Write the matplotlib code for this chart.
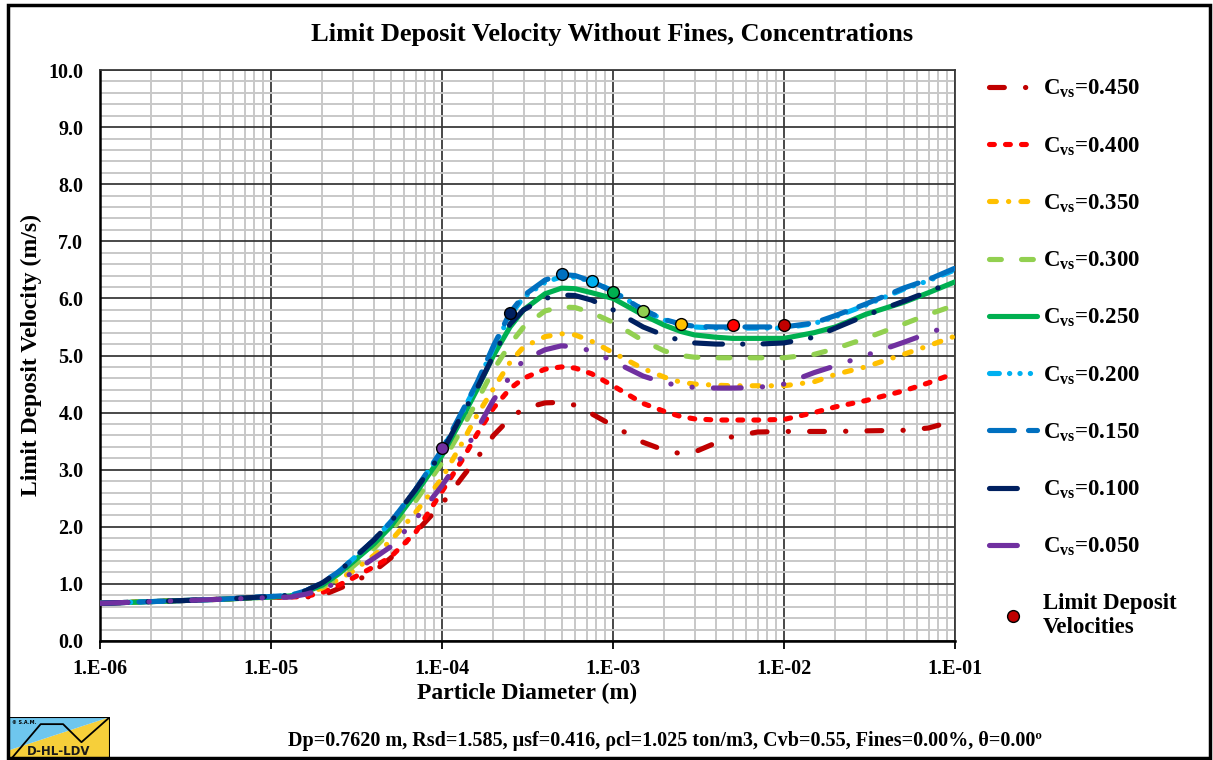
import numpy as np
import matplotlib
matplotlib.use('Agg')
import matplotlib.pyplot as plt
from matplotlib.lines import Line2D
from matplotlib.ticker import LogLocator, MultipleLocator, FuncFormatter, NullFormatter
from matplotlib.patches import Polygon, Rectangle

plt.rcParams['font.family'] = ['Liberation Serif', 'DejaVu Serif']
plt.rcParams['font.weight'] = 'bold'

# ---------------- data ----------------
diameters = [1e-6, 2e-6, 5e-6, 1e-5, 1.3e-5, 1.6e-5, 2e-5, 2.5e-5, 3e-5, 4e-5, 5e-5, 7e-5,
             1e-4, 1.3e-4, 1.6e-4, 2e-4, 2.5e-4, 3e-4, 4e-4, 5e-4, 6e-4, 7.5e-4, 1e-3,
             1.5e-3, 2e-3, 2.5e-3, 3e-3, 4e-3, 5e-3, 7e-3, 1e-2, 1.5e-2, 2e-2, 3e-2,
             5e-2, 7e-2, 1e-1]

cvs_labels = ['0.450', '0.400', '0.350', '0.300', '0.250', '0.200', '0.150', '0.100', '0.050']

v_450 = [0.66, 0.69, 0.73, 0.77, 0.77, 0.77, 0.80, 0.92, 1.02, 1.22, 1.45, 1.90,
         2.40, 2.85, 3.20, 3.60, 3.90, 4.07, 4.17, 4.18, 4.13, 3.98, 3.77, 3.48, 3.34,
         3.28, 3.31, 3.47, 3.58, 3.66, 3.67, 3.67, 3.67, 3.68, 3.69, 3.73, 3.86]
v_400 = [0.66, 0.69, 0.73, 0.77, 0.77, 0.78, 0.85, 0.98, 1.10, 1.30, 1.47, 1.90,
         2.62, 3.15, 3.62, 4.08, 4.42, 4.60, 4.76, 4.80, 4.78, 4.68, 4.47, 4.16, 4.02,
         3.93, 3.89, 3.87, 3.87, 3.87, 3.88, 4.00, 4.10, 4.21, 4.38, 4.52, 4.69]
v_350 = [0.66, 0.69, 0.73, 0.77, 0.78, 0.82, 0.93, 1.08, 1.22, 1.50, 1.75, 2.25,
         2.85, 3.45, 3.95, 4.42, 4.88, 5.15, 5.33, 5.38, 5.36, 5.25, 5.05, 4.77, 4.62,
         4.53, 4.50, 4.48, 4.47, 4.47, 4.47, 4.54, 4.67, 4.80, 5.02, 5.17, 5.34]
v_300 = [0.66, 0.69, 0.73, 0.77, 0.79, 0.85, 0.95, 1.12, 1.30, 1.62, 1.92, 2.45,
         3.12, 3.70, 4.20, 4.75, 5.20, 5.50, 5.78, 5.85, 5.84, 5.75, 5.58, 5.26, 5.08,
         5.00, 4.97, 4.96, 4.96, 4.96, 4.96, 5.02, 5.12, 5.30, 5.55, 5.72, 5.88]
v_250 = [0.66, 0.69, 0.73, 0.77, 0.79, 0.86, 0.98, 1.18, 1.38, 1.70, 2.00, 2.58,
         3.25, 3.88, 4.40, 5.00, 5.50, 5.80, 6.08, 6.18, 6.17, 6.10, 6.00, 5.71, 5.53,
         5.42, 5.36, 5.32, 5.30, 5.30, 5.30, 5.40, 5.50, 5.72, 5.93, 6.10, 6.29]
v_200 = [0.66, 0.69, 0.73, 0.78, 0.80, 0.88, 1.02, 1.22, 1.43, 1.77, 2.08, 2.65,
         3.33, 3.98, 4.50, 5.14, 5.70, 6.02, 6.28, 6.38, 6.37, 6.30, 6.13, 5.80, 5.62,
         5.54, 5.50, 5.48, 5.48, 5.48, 5.48, 5.56, 5.68, 5.88, 6.16, 6.31, 6.50]
v_150 = [0.66, 0.69, 0.73, 0.78, 0.80, 0.88, 1.02, 1.22, 1.43, 1.77, 2.08, 2.65,
         3.35, 4.00, 4.52, 5.17, 5.75, 6.05, 6.32, 6.42, 6.40, 6.30, 6.12, 5.80, 5.63,
         5.55, 5.51, 5.50, 5.50, 5.50, 5.50, 5.57, 5.70, 5.90, 6.18, 6.33, 6.53]
v_100 = [0.66, 0.69, 0.73, 0.78, 0.80, 0.88, 1.02, 1.22, 1.43, 1.77, 2.08, 2.65,
         3.30, 3.95, 4.42, 5.00, 5.55, 5.80, 6.00, 6.06, 6.05, 5.97, 5.80, 5.50, 5.35,
         5.26, 5.22, 5.20, 5.20, 5.20, 5.22, 5.32, 5.48, 5.70, 5.95, 6.12, 6.30]
v_050 = [0.66, 0.69, 0.73, 0.76, 0.77, 0.82, 0.90, 1.05, 1.20, 1.45, 1.65, 2.13,
         2.72, 3.22, 3.70, 4.22, 4.63, 4.92, 5.10, 5.17, 5.15, 5.08, 4.90, 4.64, 4.52,
         4.47, 4.44, 4.43, 4.43, 4.44, 4.50, 4.70, 4.82, 5.00, 5.23, 5.39, 5.56]

ldv_d = [1e-4, 2.5e-4, 5e-4, 7.5e-4, 1e-3, 1.5e-3, 2.5e-3, 5e-3, 1e-2]
ldv_v = [3.38, 5.75, 6.42, 6.30, 6.12, 5.78, 5.55, 5.53, 5.53]
ldv_series = ['0.050', '0.100', '0.150', '0.200', '0.250', '0.300', '0.350', '0.400', '0.450']

x_ticks = [1e-6, 1e-5, 1e-4, 1e-3, 1e-2, 1e-1]

series_values = [v_450, v_400, v_350, v_300, v_250, v_200, v_150, v_100, v_050]
colors = ['#C00000', '#FF0000', '#FFC000', '#92D050', '#00B050', '#00B0F0', '#0070C0', '#002060', '#7030A0']

LW = 3.7
PX = 100 / 72.0  # pixels per point
lwpx = LW * PX


def pat(*segs):
    """segs in pixels: alternating on/off; on segments drawn with round caps"""
    out = []
    for i, s in enumerate(segs):
        if i % 2 == 0:
            out.append(max(s - lwpx, 0.05 * lwpx) / PX / LW)
        else:
            out.append((s + lwpx) / PX / LW)
    return (0, tuple(out))


styles = [
    pat(20, 16, 4, 16),                 # 0.450 long dash dot
    pat(10, 6),                         # 0.400 dash
    pat(12, 7, 4, 7),                   # 0.350 dash dot
    pat(17, 15),                        # 0.300 long dash
    '-',                                # 0.250 solid
    pat(15, 5, 4, 5, 4, 5, 4, 5),       # 0.200 dash dot dot dot
    pat(30, 9),                         # 0.150 long dash
    pat(33, 15, 4, 15),                 # 0.100 long dash dot
    pat(33, 16, 4, 16, 4, 16),          # 0.050 long dash dot dot
]

W, H = 1213, 760
fig = plt.figure(figsize=(W / 100, H / 100), dpi=100)
ax = fig.add_axes([100 / W, 1 - 641 / H, (955 - 100) / W, (641 - 70) / H])

handles = []
for lab, vals, col, ls in zip(cvs_labels, series_values, colors, styles):
    ln, = ax.plot(diameters, vals, color=col, lw=LW, linestyle=ls,
                  dash_capstyle='round', solid_capstyle='round', zorder=3,
                  label=r'C$\mathregular{_{vs}}$=' + lab)
    handles.append(ln)

col_of = dict(zip(cvs_labels, colors))
for dd, vv, s in zip(ldv_d, ldv_v, ldv_series):
    ax.plot([dd], [vv], 'o', ms=8.5, mfc=col_of[s], mec='black', mew=1.0, zorder=5)

ax.set_xscale('log')
ax.set_xlim(1e-6, 1e-1)
ax.set_ylim(0, 10)
ax.set_xticks(x_ticks)
ax.xaxis.set_major_formatter(FuncFormatter(lambda x, p: '1.E%+03d' % int(round(np.log10(x)))))
ax.xaxis.set_minor_locator(LogLocator(base=10, subs=np.arange(2, 10)))
ax.xaxis.set_minor_formatter(NullFormatter())
ax.yaxis.set_major_locator(MultipleLocator(1.0))
ax.yaxis.set_minor_locator(MultipleLocator(0.2))
ax.yaxis.set_major_formatter(FuncFormatter(lambda y, p: '%.1f' % y))

ax.grid(which='minor', color='#C8C8C8', lw=1.4, zorder=0)
ax.grid(which='major', color='#3A3A3A', lw=1.3, zorder=1)
ax.set_axisbelow(True)
for sp in ax.spines.values():
    sp.set_color('#3A3A3A')
    sp.set_linewidth(1.3)
ax.spines['left'].set_color('black')
ax.spines['bottom'].set_color('black')
ax.spines['left'].set_linewidth(1.8)
ax.spines['bottom'].set_linewidth(1.8)

ax.tick_params(axis='x', which='major', length=6, width=1.3, direction='out', labelsize=14.5, pad=7)
ax.tick_params(axis='x', which='minor', length=0)
ax.tick_params(axis='y', which='both', length=0, labelsize=14.5, pad=12)
for t in ax.get_xticklabels() + ax.get_yticklabels():
    t.set_fontweight('bold')

ax.set_xlabel('Particle Diameter (m)', fontsize=17, fontweight='bold')
ax.set_ylabel('Limit Deposit Velocity (m/s)', fontsize=17, fontweight='bold')
ax.xaxis.set_label_coords((527 - 100) / 855, -(693 - 641) / 571)
ax.yaxis.set_label_coords(-(100 - 31) / 855, (641 - 355) / 571)
ax.xaxis.label.set_va('center')
ax.yaxis.label.set_va('center')

fig.text(612 / W, 1 - 35 / H, 'Limit Deposit Velocity Without Fines, Concentrations',
         ha='center', va='center', fontsize=19, fontweight='bold')

ldv_handle = Line2D([], [], marker='o', ls='none', ms=8.5, mfc='#C00000', mec='black', mew=1.0)
leg = fig.legend(handles + [ldv_handle],
                 [h.get_label() for h in handles] + ['Limit Deposit\nVelocities'],
                 loc='upper left', bbox_to_anchor=(989 / W, 1 - 78 / H),
                 frameon=False, fontsize=16.5, handlelength=2.1, handletextpad=0.25,
                 labelspacing=1.525, borderpad=0, borderaxespad=0)
for t in leg.get_texts():
    t.set_fontweight('bold')

fig.text(665 / W, 1 - 741 / H,
         'Dp=0.7620 m, Rsd=1.585, \u03bcsf=0.416, \u03c1cl=1.025 ton/m3, Cvb=0.55, Fines=0.00%, \u03b8=0.00\u00ba',
         ha='center', va='center', fontsize=14.5, fontweight='bold')

# figure frame
fig.add_artist(Rectangle((8 / W, 1 - 758 / H), (1210 - 8) / W, (758 - 5) / H,
                         transform=fig.transFigure, fill=False, ec='black', lw=2.5))

# logo
lax = fig.add_axes([8 / W, 1 - 759 / H, 102 / W, 42 / H])
lax.set_xlim(0, 1)
lax.set_ylim(0, 1)
lax.axis('off')
lax.add_patch(Polygon([[0, 0], [1, 0], [1, 1], [0, 0.2]], closed=True, fc='#F6CF3A', ec='none'))
lax.add_patch(Polygon([[0, 0.2], [1, 1], [0, 1]], closed=True, fc='#6EC6EE', ec='none'))
lax.plot([0.03, 0.32, 0.54, 0.72, 0.99], [0.0, 0.83, 0.83, 0.4, 0.98], color='black', lw=1.3)
lax.add_patch(Rectangle((0, 0), 1, 1, fill=False, ec='black', lw=1.5))
lax.text(0.5, 0.17, 'D-HL-LDV', ha='center', va='center', fontsize=8.5, fontweight='bold',
         family='DejaVu Sans', color='#1a1a1a')
lax.text(0.04, 0.88, '\u00a9 S.A.M.', ha='left', va='center', fontsize=3.5, family='DejaVu Sans')

fig.savefig('out.png', dpi=100)
